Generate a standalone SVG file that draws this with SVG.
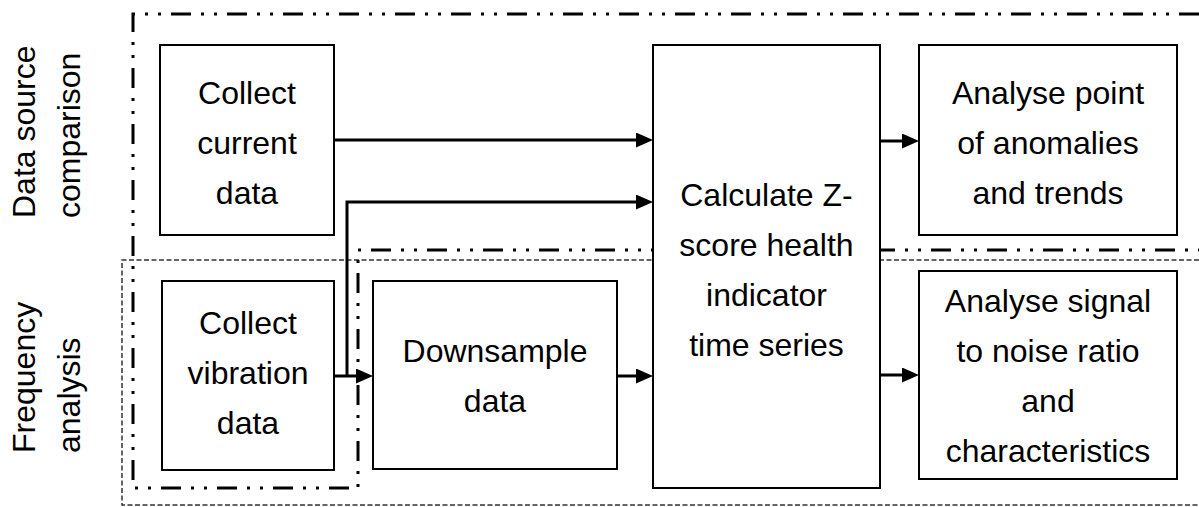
<svg xmlns="http://www.w3.org/2000/svg" width="1199" height="507" viewBox="0 0 1199 507">
  <style>
    .box { fill: #ffffff; stroke: #000000; stroke-width: 2; }
    .lbl { font-family: "Liberation Sans", Arial, sans-serif; font-size: 32px; fill: #000000; text-anchor: middle; }
    .side { font-family: "Liberation Sans", Arial, sans-serif; font-size: 32px; fill: #000000; text-anchor: start; }
    .edge { fill: none; stroke: #000000; stroke-width: 3; marker-end: url(#arrow); }
    .zone-a { fill: none; stroke: #000000; stroke-width: 3; stroke-dasharray: 20 10 3 10 3 10; }
    .zone-b { fill: none; stroke: #333333; stroke-width: 1.5; stroke-dasharray: 5 2.5; }
  </style>
  <defs>
    <marker id="arrow" markerUnits="userSpaceOnUse" markerWidth="17" markerHeight="15" refX="7" refY="7.5" orient="auto">
      <path d="M0,0 L17,7.5 L0,15 Z" fill="#000000"/>
    </marker>
  </defs>
  <rect width="1199" height="507" fill="#ffffff"/>

  <!-- grouping regions -->
  <g id="regions">
    <path class="zone-b" d="M1199,260 H122 V505 H1199"/>
    <path class="zone-a" d="M1199,14 H133 V488 H358 V250 H1199"/>
  </g>

  <!-- side labels -->
  <g id="side-labels">
    <text class="side" transform="translate(35,218) rotate(-90)">Data source</text>
    <text class="side" transform="translate(80,218) rotate(-90)">comparison</text>
    <text class="side" transform="translate(35,453) rotate(-90)">Frequency</text>
    <text class="side" transform="translate(80,453) rotate(-90)">analysis</text>
  </g>

  <!-- connectors -->
  <g id="connectors">
    <path class="edge" d="M334,140 H643"/>
    <path class="edge" d="M347,376 V202 H643"/>
    <path class="edge" d="M334,376 H363"/>
    <path class="edge" d="M617,376 H643"/>
    <path class="edge" d="M880,141 H909"/>
    <path class="edge" d="M880,375 H909"/>
  </g>

  <g id="collect-current">
    <rect class="box" x="160" y="45" width="174" height="190"/>
    <text class="lbl" x="247" y="104">Collect</text>
    <text class="lbl" x="247" y="154">current</text>
    <text class="lbl" x="247" y="204">data</text>
  </g>

  <g id="collect-vibration">
    <rect class="box" x="162" y="281" width="172" height="189"/>
    <text class="lbl" x="248" y="334">Collect</text>
    <text class="lbl" x="248" y="384">vibration</text>
    <text class="lbl" x="248" y="434">data</text>
  </g>

  <g id="downsample">
    <rect class="box" x="373" y="281" width="244" height="188"/>
    <text class="lbl" x="495" y="362">Downsample</text>
    <text class="lbl" x="495" y="412">data</text>
  </g>

  <g id="z-score">
    <rect class="box" x="653" y="45" width="227" height="443"/>
    <text class="lbl" x="766.5" y="206">Calculate Z-</text>
    <text class="lbl" x="766.5" y="256">score health</text>
    <text class="lbl" x="766.5" y="306">indicator</text>
    <text class="lbl" x="766.5" y="356">time series</text>
  </g>

  <g id="analyse-anomalies">
    <rect class="box" x="919" y="45" width="258" height="190"/>
    <text class="lbl" x="1048" y="104">Analyse point</text>
    <text class="lbl" x="1048" y="154">of anomalies</text>
    <text class="lbl" x="1048" y="204">and trends</text>
  </g>

  <g id="analyse-snr">
    <rect class="box" x="919" y="271" width="258" height="208"/>
    <text class="lbl" x="1048" y="312">Analyse signal</text>
    <text class="lbl" x="1048" y="362">to noise ratio</text>
    <text class="lbl" x="1048" y="412">and</text>
    <text class="lbl" x="1048" y="462">characteristics</text>
  </g>
</svg>
